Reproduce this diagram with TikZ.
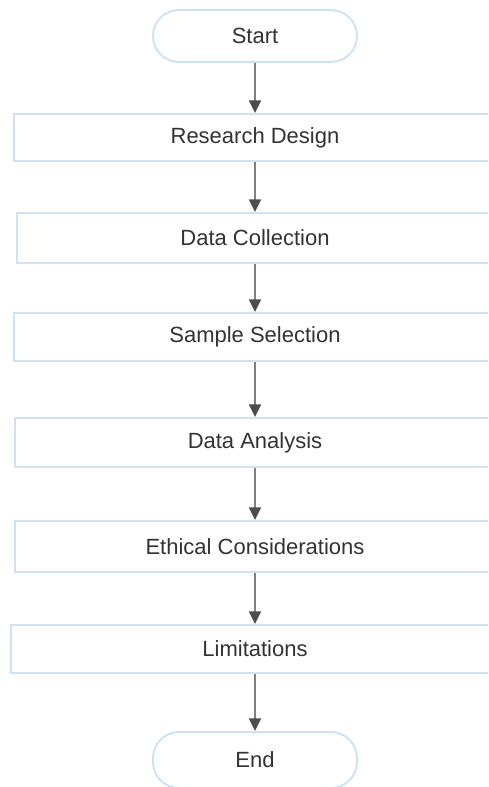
\documentclass[tikz,border=0pt]{standalone}
\usepackage{fontspec}
\setmainfont{Liberation Sans}
\usetikzlibrary{arrows.meta}
\definecolor{boxline}{HTML}{CFE2F3}
\definecolor{txt}{HTML}{333333}
\definecolor{arrline}{HTML}{7F7F7F}
\definecolor{arrhead}{HTML}{4D4D4D}
\tikzset{
  stepbox/.style={draw=boxline, line width=1.5pt, fill=white, rectangle, inner sep=0pt, text=txt, font=\fontsize{16.5}{20}\selectfont},
  termbox/.style={stepbox, rounded corners=19.5pt, minimum width=153pt},
  flow/.style={draw=arrline, line width=1.3pt, -{Triangle[length=9.5pt,width=9pt,color=arrhead]}}
}
\begin{document}
\begin{tikzpicture}[x=0.75pt,y=-0.75pt]
\useasboundingbox (0,0) rectangle (488,787);
\clip (0,0) rectangle (488,787);
\node[termbox, minimum height=39pt] (start) at (255,36) {Start};
\node[stepbox, minimum width=361.5pt, minimum height=35.25pt] (rd) at (255,137.5) {Research Design};
\node[stepbox, minimum width=357pt, minimum height=37.5pt] (dc) at (255,238) {Data Collection};
\node[stepbox, minimum width=361.5pt, minimum height=36pt] (ss) at (255,337) {Sample Selection};
\node[stepbox, minimum width=360pt, minimum height=36.75pt] (da) at (255,442.5) {Data Analysis};
\node[stepbox, minimum width=360pt, minimum height=38.25pt] (ec) at (255,546.5) {Ethical Considerations};
\node[stepbox, minimum width=366pt, minimum height=36pt] (lim) at (255,649) {Limitations};
\node[termbox, minimum height=42pt] (end) at (255,760) {End};
\draw[flow] (start) -- (rd);
\draw[flow] (rd) -- (dc);
\draw[flow] (dc) -- (ss);
\draw[flow] (ss) -- (da);
\draw[flow] (da) -- (ec);
\draw[flow] (ec) -- (lim);
\draw[flow] (lim) -- (end);
\end{tikzpicture}
\end{document}
